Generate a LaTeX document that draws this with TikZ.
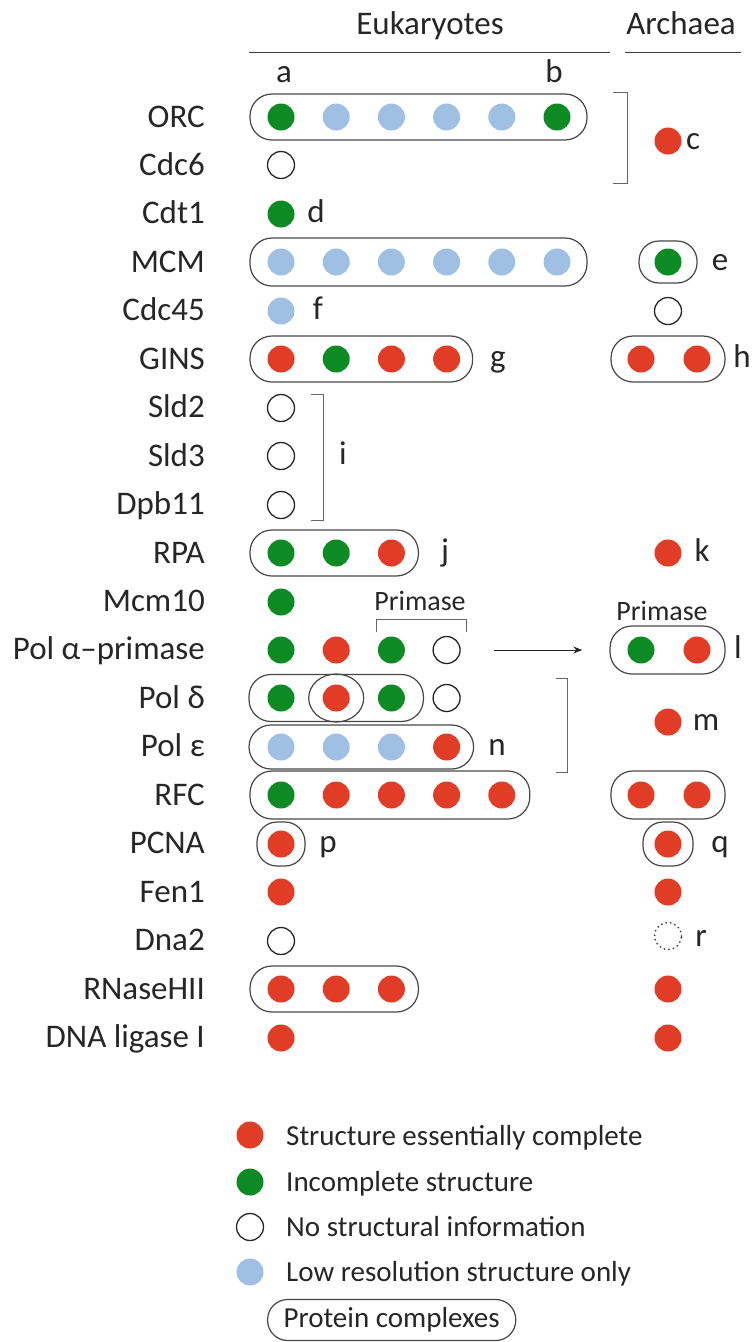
\documentclass[tikz,border=0pt]{standalone}
\usepackage{fontspec}
\setmainfont{Carlito}
\usetikzlibrary{arrows.meta}
\definecolor{fullred}{RGB}{225,61,38}
\definecolor{partgreen}{RGB}{14,138,37}
\definecolor{lowblue}{RGB}{160,192,227}
\definecolor{boxgray}{RGB}{70,70,70}
\begin{document}
\begin{tikzpicture}[x=1pt,y=-1pt,
    pdot/.style={circle,minimum size=27pt,inner sep=0pt},
    fullp/.style={pdot,fill=fullred},
    partp/.style={pdot,fill=partgreen},
    lowp/.style={pdot,fill=lowblue},
    nonep/.style={pdot,draw=black!85,line width=1.3pt},
    unkp/.style={pdot,draw=black!75,line width=2pt,line cap=round,dash pattern=on 0pt off 4.6pt},
    cplx/.style={draw=boxgray,line width=1.2pt,rounded corners=22pt},
    brk/.style={draw=black!60,line width=1pt},
    rule/.style={draw=black!75,line width=1pt},
    arr/.style={draw=black!85,line width=1pt,-{Stealth[length=9pt,width=7pt]}},
    rowlab/.style={anchor=base east,inner sep=0pt,text=black!85,font=\fontsize{33}{40}\selectfont},
    tag/.style={anchor=base,inner sep=0pt,text=black!85,font=\fontsize{33}{40}\selectfont},
    sublab/.style={anchor=base,inner sep=0pt,text=black!85,font=\fontsize{28}{34}\selectfont},
    keylab/.style={anchor=base west,inner sep=0pt,text=black!85,font=\fontsize{29}{35}\selectfont}]
\useasboundingbox (0,0) rectangle (755,1342);
                                    \def\xa{281};\def\dx{55.2};\def\xarc{668};

% header
\node[tag] (euk) at (430,34) {Eukaryotes};
\node[tag] (arc) at (681,34) {Archaea};
\draw[rule] (249,52) -- (610,52);
\draw[rule] (625,52) -- (741,52);
\node[tag] (ta) at (284,82) {a};
\node[tag] (tb) at (554,82) {b};

% row names
\foreach \txt [count=\n from 0] in {ORC,Cdc6,Cdt1,MCM,Cdc45,GINS,Sld2,Sld3,Dpb11,RPA,Mcm10,Pol α–primase,Pol δ,Pol ε,RFC,PCNA,Fen1,Dna2,RNaseHII,DNA ligase I}
    \node[rowlab] (lab\n) at (205,{117+48.45*\n+10}) {\txt};

% eukaryotes
\foreach \s [count=\k] in {partp,lowp,lowp,lowp,lowp,partp}
    \node[\s] (orc\k) at ({\xa+\dx*(\k-1)},117) {};
\draw[cplx] ([shift={(-31,-23)}]orc1.center) rectangle ([shift={(30,23)}]orc6.center);
\node[nonep] (cdc6) at (\xa,165) {};
\node[partp] (cdt1) at (\xa,214) {};
\foreach \k in {1,...,6}
    \node[lowp] (mcm\k) at ({\xa+\dx*(\k-1)},262) {};
\draw[cplx] ([shift={(-31,-24)}]mcm1.center) rectangle ([shift={(30,24)}]mcm6.center);
\node[lowp] (cdc45) at (\xa,311) {};
\foreach \s [count=\k] in {fullp,partp,fullp,fullp}
    \node[\s] (gins\k) at ({\xa+\dx*(\k-1)},359) {};
\draw[cplx] ([shift={(-31,-23)}]gins1.center) rectangle ([shift={(26,23)}]gins4.center);
\node[nonep] (sld2) at (\xa,408) {};
\node[nonep] (sld3) at (\xa,456) {};
\node[nonep] (dpb11) at (\xa,505) {};
\draw[brk] (311,394) -- (323,394) -- (323,520) -- (311,520);
\foreach \s [count=\k] in {partp,partp,fullp}
    \node[\s] (rpa\k) at ({\xa+\dx*(\k-1)},553) {};
\draw[cplx] ([shift={(-31,-23)}]rpa1.center) rectangle ([shift={(27,23)}]rpa3.center);
\node[partp] (mcm10) at (\xa,602) {};
\foreach \s [count=\k] in {partp,fullp,partp,nonep}
    \node[\s] (pa\k) at ({\xa+\dx*(\k-1)},650) {};
\draw[brk] (376,632) -- (376,619) -- (466,619) -- (466,632);
\node[sublab] (prim) at (420,610) {Primase};
\foreach \s [count=\k] in {partp,fullp,partp,nonep}
    \node[\s] (pd\k) at ({\xa+\dx*(\k-1)},698) {};
\draw[cplx] ([shift={(-32,-23.5)}]pd1.center) rectangle ([shift={(32,23.5)}]pd3.center);
\draw[cplx] (pd2) ellipse [x radius=27.5, y radius=24];
\foreach \s [count=\k] in {lowp,lowp,lowp,fullp}
    \node[\s] (pe\k) at ({\xa+\dx*(\k-1)},747) {};
\draw[cplx] ([shift={(-32,-22)}]pe1.center) rectangle ([shift={(27,22)}]pe4.center);
\draw[brk] (556,678) -- (567,678) -- (567,772) -- (556,772);
\foreach \s [count=\k] in {partp,fullp,fullp,fullp,fullp}
    \node[\s] (rfc\k) at ({\xa+\dx*(\k-1)},795) {};
\draw[cplx] ([shift={(-31,-24)}]rfc1.center) rectangle ([shift={(28,24)}]rfc5.center);
\node[fullp] (pcna) at (\xa,844) {};
\draw[cplx,rounded corners=20pt] ([shift={(-24,-22)}]pcna.center) rectangle ([shift={(24,22)}]pcna.center);
\node[fullp] (fen1) at (\xa,892) {};
\node[nonep] (dna2) at (\xa,941) {};
\foreach \k in {1,2,3}
    \node[fullp] (rnh\k) at ({\xa+\dx*(\k-1)},989) {};
\draw[cplx] ([shift={(-31,-23)}]rnh1.center) rectangle ([shift={(27,23)}]rnh3.center);
\node[fullp] (lig) at (\xa,1038) {};

% archaea
\node[fullp] (aorc) at (\xarc,141) {};
\draw[brk] (613,92) -- (627,92) -- (627,183) -- (613,183);
\node[partp] (amcm) at (\xarc,262) {};
\draw[cplx,rounded corners=20pt] ([shift={(-29,-21)}]amcm.center) rectangle ([shift={(29,21)}]amcm.center);
\node[nonep] (acdc45) at (\xarc,311) {};
\node[fullp] (agins1) at (641,359) {};
\node[fullp] (agins2) at (697,359) {};
\draw[cplx] ([shift={(-30,-23)}]agins1.center) rectangle ([shift={(28,23)}]agins2.center);
\node[fullp] (arpa) at (\xarc,553) {};
\node[sublab] (aprim) at (662,620) {Primase};
\node[partp] (apri1) at (641,650) {};
\node[fullp] (apri2) at (697,650) {};
\draw[cplx] ([shift={(-31,-24)}]apri1.center) rectangle ([shift={(28,24)}]apri2.center);
\node[fullp] (apol) at (\xarc,722) {};
\node[fullp] (arfc1) at (641,795) {};
\node[fullp] (arfc2) at (697,795) {};
\draw[cplx] ([shift={(-30,-24)}]arfc1.center) rectangle ([shift={(28,24)}]arfc2.center);
\node[fullp] (apcna) at (\xarc,844) {};
\draw[cplx,rounded corners=20pt] ([shift={(-25,-22)}]apcna.center) rectangle ([shift={(25,22)}]apcna.center);
\node[fullp] (afen1) at (\xarc,892) {};
\node[unkp] (adna2) at (\xarc,936) {};
\node[fullp] (arnh) at (\xarc,989) {};
\node[fullp] (alig) at (\xarc,1038) {};
\draw[arr,shorten <=33pt,shorten >=45pt] (pa4) -- (apri1);

% letters
\node[tag] (tc) at (693,149) {c};
\node[tag] (td) at (316,222) {d};
\node[tag] (te) at (720,270) {e};
\node[tag] (tf) at (318,319) {f};
\node[tag] (tg) at (498,367) {g};
\node[tag] (th) at (742,367) {h};
\node[tag] (ti) at (343,464) {i};
\node[tag] (tj) at (445,561) {j};
\node[tag] (tk) at (702,561) {k};
\node[tag] (tl) at (738,658) {l};
\node[tag] (tm) at (706,730) {m};
\node[tag] (tn) at (497,755) {n};
\node[tag] (tp) at (328,852) {p};
\node[tag] (tq) at (720,852) {q};
\node[tag] (tr) at (701,946) {r};

% key
\node[fullp] (key1) at (250,1135) {};
\node[keylab] (kt1) at (286,1145) {Structure essentially complete};
\node[partp] (key2) at (250,1182) {};
\node[keylab] (kt2) at (286,1191) {Incomplete structure};
\node[nonep] (key3) at (250,1227) {};
\node[keylab] (kt3) at (286,1236) {No structural information};
\node[lowp] (key4) at (250,1272) {};
\node[keylab] (kt4) at (286,1281) {Low resolution structure only};
\node[keylab,anchor=west,draw=boxgray,line width=1.2pt,rounded corners=20pt,inner xsep=16pt,minimum height=41pt] (key5) at (267,1320) {Protein complexes};
\end{tikzpicture}
\end{document}
